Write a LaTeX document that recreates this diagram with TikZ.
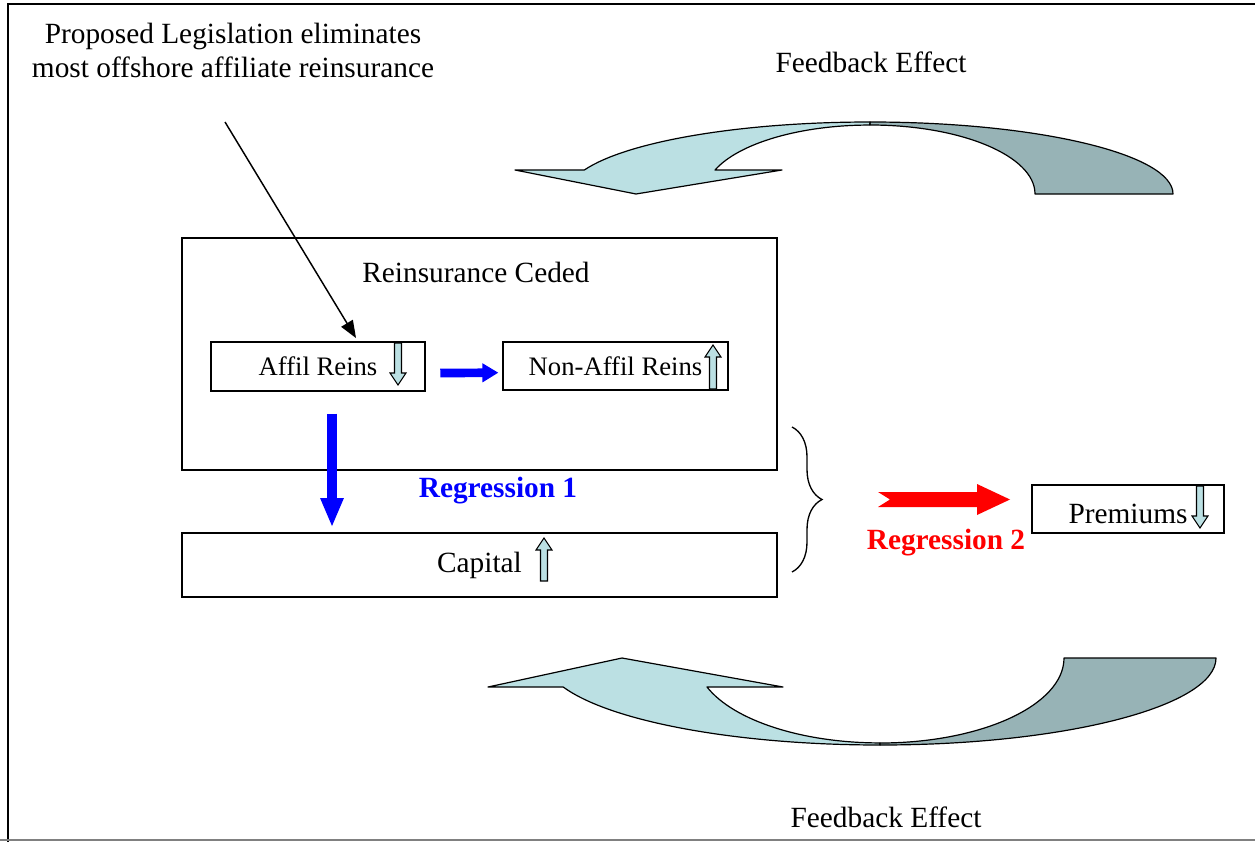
\documentclass[tikz,border=0pt]{standalone}
\usepackage{fontspec}
\setmainfont{Liberation Serif}
\usepackage{xcolor}
\usetikzlibrary{arrows.meta,positioning,decorations.pathreplacing}

\definecolor{lightteal}{HTML}{BBE0E3}
\definecolor{darkteal}{HTML}{97B3B6}

\newcommand{\smalldown}[3]{%
  \draw[smallarr] (#1-3.5,-#2) -- (#1+3.5,-#2) -- (#1+3.5,-#3+12) -- (#1+8,-#3+12)
    -- (#1,-#3) -- (#1-8,-#3+12) -- (#1-3.5,-#3+12) -- cycle;}
\newcommand{\smallup}[3]{%
  \draw[smallarr] (#1,-#2) -- (#1+8,-#2-12) -- (#1+3.5,-#2-12) -- (#1+3.5,-#3)
    -- (#1-3.5,-#3) -- (#1-3.5,-#2-12) -- (#1-8,-#2-12) -- cycle;}

\begin{document}
\begin{tikzpicture}[
  x=0.75pt, y=0.75pt,
  font=\fontsize{22}{25.5}\selectfont,
  box/.style={draw, line width=0.9pt, inner sep=0pt},
  txt/.style={inner sep=0pt, align=center},
  smallarr/.style={draw, line width=0.8pt, fill=lightteal},
  curvedband/.style={draw, line width=0.9pt, line join=round},
  bluearr/.style={blue, -{Triangle[length=12pt, width=13.5pt]}},
  regr/.style={inner sep=0pt, font=\fontsize{22}{25.5}\selectfont\bfseries}
]
  \useasboundingbox (0,0) rectangle (1255,-842);
  \draw[line width=1.2pt] (8,-842) -- (8,-4) -- (1255,-4);
  \draw[gray, line width=1.2pt] (0,-840) -- (1255,-840);

  \node[txt] (law) at (233,-50) {Proposed Legislation eliminates\\most offshore affiliate reinsurance};
  \coordinate (lawstart) at (225,-122);

  \node[txt] (fbtop) at (871,-62) {Feedback Effect};
  \node[txt] (fbbot) at (886,-817) {Feedback Effect};

  % feedback arrow on top
  \draw[curvedband, fill=darkteal] (870,-122) arc[start angle=90, end angle=0, x radius=303, y radius=72]
    -- (1035,-194) arc[start angle=0, end angle=90, x radius=165, y radius=69] -- cycle;
  \draw[curvedband, fill=lightteal] (870,-122) arc[start angle=90, end angle=160.5, x radius=303, y radius=72]
    -- (515,-170) -- (636,-194) -- (782,-170) -- (715,-170)
    arc[start angle=159.6, end angle=90, x radius=165, y radius=69] -- cycle;

  % feedback arrow at the bottom
  \draw[curvedband, fill=lightteal] (880,-745) arc[start angle=270, end angle=199.5, x radius=336, y radius=87]
    -- (488,-687) -- (622,-658) -- (783,-687) -- (707,-687)
    arc[start angle=200, end angle=270, x radius=184, y radius=85] -- cycle;
  \draw[curvedband, fill=darkteal] (880,-745) arc[start angle=270, end angle=360, x radius=336, y radius=87]
    -- (1064,-658) arc[start angle=0, end angle=-90, x radius=184, y radius=85] -- cycle;

  \node[box, minimum width=446.25pt, minimum height=174pt] (reins) at (479.5,-354) {};
  \node[txt] (reinstitle) at (476,-272) {Reinsurance Ceded};
  \node[box, minimum width=160.5pt, minimum height=36.75pt, font=\fontsize{20}{24}\selectfont] (affil) at (318,-366.5) {Affil Reins};
  \node[box, minimum width=168.75pt, minimum height=36pt, font=\fontsize{20}{24}\selectfont] (nonaffil) at (615.5,-366) {Non-Affil Reins};
  \node[box, minimum width=446.25pt, minimum height=48pt] (capital) at (479.5,-565) {Capital};
  \node[box, minimum width=144pt, minimum height=36pt, text height=22pt, text depth=0pt] (premiums) at (1128,-509) {Premiums};

  \smalldown{398}{343}{385}
  \smallup{713}{345}{389}
  \smallup{544}{538}{581}
  \smalldown{1200}{486}{528}

  \draw[line width=1.1pt, -{Triangle[length=13pt, width=10pt]}] (lawstart) -- ([xshift=28.5pt, yshift=2.5pt]affil.north);

  \draw[bluearr, line width=6.5pt, shorten <=11pt, shorten >=3pt]
    ([yshift=-5pt]affil.east) -- ([yshift=-5pt]nonaffil.west);
  \draw[blue, line width=7.5pt, -{Triangle[length=22pt, width=16pt]}, shorten <=16.5pt, shorten >=3.75pt]
    ([xshift=10.5pt]affil.south) -- ([xshift=10.5pt]affil.south |- capital.north);

  \node[regr, text=blue] (reg1) at (498,-491) {Regression 1};

  \draw[line width=1pt, decorate, decoration={brace, amplitude=22.5pt}] (792,-427) -- (792,-572);

  \fill[red] (878,-492) -- (977,-492) -- (977,-484) -- (1010,-499.5) -- (977,-515) -- (977,-507)
    -- (878,-507) -- (890,-499.5) -- cycle;
  \node[regr, text=red] (reg2) at (946,-543) {Regression 2};
\end{tikzpicture}
\end{document}
